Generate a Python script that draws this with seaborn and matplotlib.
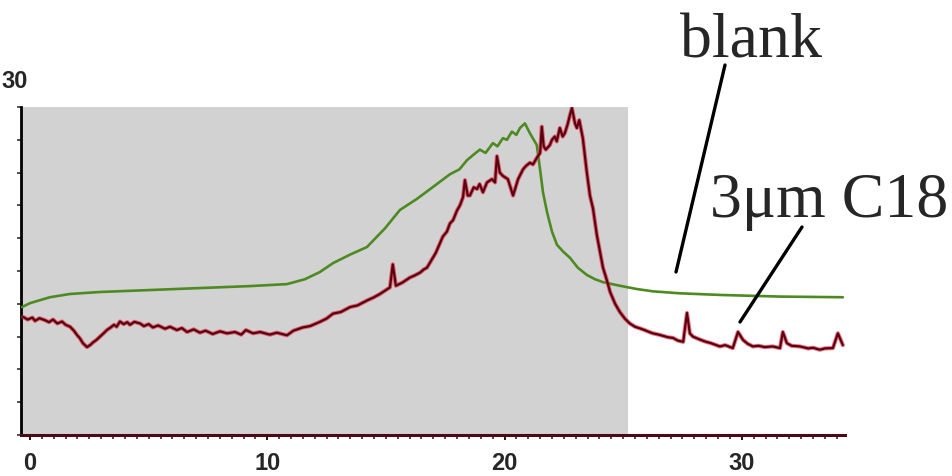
import numpy as np
import pandas as pd
import matplotlib
matplotlib.use("Agg")
import matplotlib.pyplot as plt
from matplotlib.lines import Line2D
import seaborn as sns

# ---- data (time in min, signal in arbitrary units) ----
blank_t = [-0.34, 0.0, 0.84, 1.69, 2.95, 5.06, 7.16, 9.27, 10.83, 11.59, 12.22, 12.77,
           13.49, 14.2, 14.96, 15.59, 16.31, 16.98, 17.7, 18.1, 18.42, 18.7, 18.96, 19.2,
           19.51, 19.7, 19.93, 20.1, 20.31, 20.5, 20.65, 20.86, 21.07, 21.36, 21.49,
           21.62, 21.79, 22.0, 22.21, 22.46, 22.76, 23.09, 23.47, 23.81, 24.15, 24.86,
           25.58, 26.25, 27.39, 29.08, 31.61, 34.26]
blank_v = [3.90, 4.02, 4.20, 4.30, 4.36, 4.42, 4.48, 4.54, 4.60, 4.75, 4.97, 5.24,
           5.50, 5.73, 6.30, 6.86, 7.20, 7.56, 7.95, 8.10, 8.38, 8.55, 8.70, 8.60,
           8.90, 8.80, 9.05, 9.00, 9.25, 9.15, 9.36, 9.50, 9.20, 8.84, 8.14,
           7.40, 6.80, 6.20, 5.80, 5.60, 5.40, 5.10, 4.88, 4.75, 4.66, 4.55,
           4.45, 4.38, 4.32, 4.27, 4.22, 4.20]

c18_t = [-0.29, -0.1, 0.1, 0.21, 0.4, 0.63, 0.8, 0.97, 1.15, 1.35, 1.5, 1.69, 1.85,
         1.98, 2.1, 2.23, 2.40, 2.55, 2.65, 2.8, 2.95, 3.1, 3.24, 3.4, 3.54, 3.65,
         3.79, 3.95, 4.1, 4.21, 4.4, 4.64, 4.8, 5.0, 5.18, 5.4, 5.69, 5.9, 6.19, 6.4,
         6.62, 6.9, 7.16, 7.4, 7.7, 8.01, 8.3, 8.64, 8.9, 9.1, 9.40, 9.7, 10.11, 10.4,
         10.83, 11.1, 11.50, 11.8, 12.22, 12.5, 12.77, 13.1, 13.49, 13.8, 14.2, 14.5,
         14.75, 15.0, 15.17, 15.29, 15.42, 15.7, 16.01, 16.2, 16.44, 16.6, 16.73,
         16.98, 17.1, 17.28, 17.4, 17.57, 17.7, 17.83, 18.0, 18.12, 18.25, 18.33,
         18.45, 18.54, 18.7, 18.84, 18.95, 19.09, 19.26, 19.47, 19.6, 19.68, 19.8,
         19.93, 20.14, 20.25, 20.36, 20.57, 20.78, 20.9, 21.07, 21.2, 21.36, 21.5,
         21.57, 21.65, 21.74, 21.91, 22.0, 22.12, 22.2, 22.33, 22.45, 22.54, 22.65,
         22.76, 22.84, 22.97, 23.05, 23.15, 23.30, 23.47, 23.60, 23.73, 23.89, 24.02,
         24.15, 24.32, 24.45, 24.66, 24.86, 25.07, 25.28, 25.5, 25.71, 25.9, 26.1,
         26.25, 26.5, 26.89, 27.1, 27.3, 27.53, 27.69, 27.81, 27.94, 28.2, 28.45,
         28.7, 29.08, 29.3, 29.62, 29.84, 30.05, 30.25, 30.47, 30.7, 30.97, 31.3,
         31.61, 31.73, 31.90, 32.1, 32.45, 32.8, 33.0, 33.29, 33.5, 33.84, 34.05, 34.26]
c18_v = [3.60, 3.52, 3.58, 3.48, 3.56, 3.50, 3.44, 3.52, 3.40, 3.46, 3.36, 3.30, 3.18,
         3.05, 2.95, 2.80, 2.68, 2.75, 2.82, 2.90, 3.00, 3.10, 3.20, 3.28, 3.36, 3.30,
         3.46, 3.38, 3.44, 3.36, 3.45, 3.40, 3.32, 3.38, 3.28, 3.34, 3.24, 3.30, 3.20, 3.26,
         3.14, 3.22, 3.12, 3.18, 3.08, 3.16, 3.10, 3.14, 3.06, 3.20, 3.10, 3.14, 3.06, 3.12,
         3.04, 3.18, 3.28, 3.32, 3.45, 3.55, 3.70, 3.75, 3.90, 3.95, 4.10, 4.20,
         4.30, 4.42, 4.50, 5.20, 4.55, 4.65, 4.80, 4.86, 4.95, 5.05, 5.10,
         5.40, 5.55, 5.85, 6.05, 6.20, 6.45, 6.55, 6.85, 7.00, 7.25, 7.77,
         7.30, 7.30, 7.55, 7.50, 7.65, 7.40, 7.70, 7.80, 7.70, 8.50, 8.00,
         7.90, 7.80, 7.55, 7.30, 7.80, 8.10, 8.20, 8.30, 8.25, 8.45, 8.60,
         9.40, 8.80, 8.70, 8.84, 9.00, 9.10, 8.95, 9.36, 9.10, 9.20, 9.45,
         9.76, 9.97, 9.50, 9.36, 9.60, 9.05, 8.00, 7.30, 6.90, 6.10, 5.60,
         5.10, 4.70, 4.36, 4.00, 3.75, 3.55, 3.40, 3.30, 3.25, 3.20, 3.14,
         3.10, 3.06, 2.98, 2.96, 2.88, 2.84, 3.72, 3.10, 3.00, 2.92, 2.85,
         2.80, 2.70, 2.74, 2.65, 3.14, 2.90, 2.78, 2.70, 2.72, 2.68, 2.70,
         2.65, 3.14, 2.80, 2.72, 2.70, 2.64, 2.66, 2.60, 2.64, 2.65, 3.10, 2.74]

x_ticks = [0, 10, 20, 30]
x_ticklabels = ["0", "10", "20", "30"]
y_ticks = list(range(0, 11))
label_blank = "blank"
label_c18 = "3\u03bcm C18"
top_label = "30"
shade_end = 25.2

blank_df = pd.DataFrame({"t": blank_t, "v": blank_v})
c18_df = pd.DataFrame({"t": c18_t, "v": c18_v})

sns.set_style("white")
plt.rcParams["font.family"] = ["Liberation Sans", "DejaVu Sans"]

W, H = 952, 476
fig = plt.figure(figsize=(W / 100, H / 100), dpi=100)
ax = fig.add_axes([21 / W, 1 - 435 / H, (845 - 21) / W, (435 - 107) / H])
ax.set_facecolor("white")

xmin, xmax = -0.38, 34.35
ax.axvspan(xmin, shade_end, color="#d2d2d2", lw=0, zorder=0)

sns.lineplot(data=blank_df, x="t", y="v", ax=ax, color="#4d8a22", linewidth=1.9,
             estimator=None, sort=False, zorder=3)
# red halo + dark core for C18 trace
sns.lineplot(data=c18_df, x="t", y="v", ax=ax, color="#e8324a", linewidth=3.0,
             estimator=None, sort=False, alpha=0.7, zorder=4)
sns.lineplot(data=c18_df, x="t", y="v", ax=ax, color="#560410", linewidth=1.6,
             estimator=None, sort=False, zorder=5)

ax.set_xlim(xmin, xmax)
ax.set_ylim(0, 10)
ax.set_xlabel("")
ax.set_ylabel("")

for s in ["top", "right"]:
    ax.spines[s].set_visible(False)
ax.spines["left"].set_color("black")
ax.spines["left"].set_linewidth(2.0)
ax.spines["bottom"].set_color("#4a0a16")
ax.spines["bottom"].set_linewidth(2.2)

ax.set_xticks(x_ticks)
ax.set_xticklabels(x_ticklabels, fontsize=17, fontweight="bold")
ax.set_xticks(np.arange(0, 34.01, 0.5), minor=True)
ax.tick_params(axis="x", which="major", direction="out", length=3.5, width=1.4,
               color="#3a0a12", pad=9)
ax.tick_params(axis="x", which="minor", direction="out", length=3, width=1.2,
               color="#5a1020")
ax.set_yticks(y_ticks)
ax.set_yticklabels([])
ax.tick_params(axis="y", which="major", direction="out", length=3, width=1.2,
               color="#333333")
ax.tick_params(axis="both", which="both", bottom=True, left=True)

# top-left value label
fig.text(15 / W, 1 - 82 / H, top_label, ha="center", va="center",
         fontsize=17, fontweight="bold")

# annotations
serif = ["Liberation Serif", "DejaVu Serif"]
fig.text(680 / W, 1 - 57 / H, label_blank, ha="left", va="baseline",
         fontsize=46, family=serif)
fig.text(710 / W, 1 - 217 / H, label_c18, ha="left", va="baseline",
         fontsize=46, family=serif)
fig.add_artist(Line2D([725 / W, 676 / W], [1 - 65 / H, 1 - 272 / H],
                      transform=fig.transFigure, color="black", lw=2.4))
fig.add_artist(Line2D([802 / W, 740 / W], [1 - 227 / H, 1 - 322 / H],
                      transform=fig.transFigure, color="black", lw=2.4))

fig.savefig("out.png", dpi=100, facecolor="white")
